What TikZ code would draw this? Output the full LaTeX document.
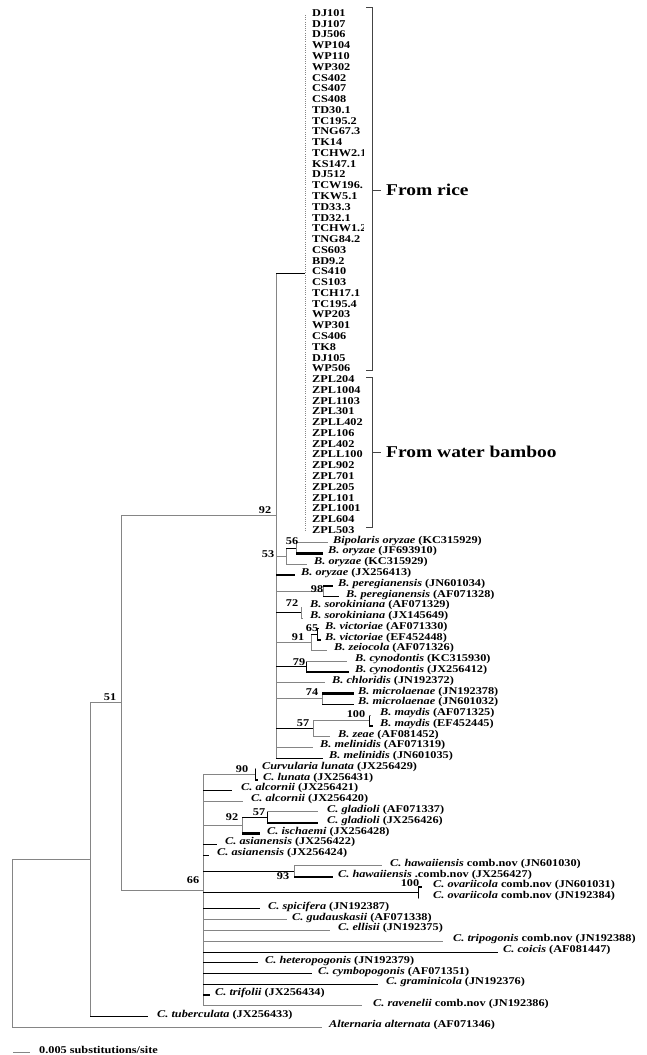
\documentclass[tikz,border=0pt]{standalone}
\usepackage{fontspec}
\setmainfont{Liberation Serif}[FakeStretch=1.18]
\definecolor{tg}{HTML}{858585}
\definecolor{bc}{HTML}{444444}
\newcommand\fs{\fontsize{10.4}{11}\selectfont\bfseries}
\newcommand\bigfs{\fontsize{16.5}{18}\selectfont\bfseries}
\pgfmathdeclarefunction{rowy}{1}{\pgfmathparse{15+10.77*#1}}
\newcommand\leaf[5]{\coordinate (#1) at (#3,{rowy(#2)});\node[lab] (#1t) at (#4,{rowy(#2)-2}) {#5};}
\begin{document}
\begin{tikzpicture}[x=1pt,y=-1pt,
 lab/.style={anchor=west,inner sep=0pt,font=\fs},
 bs/.style={inner sep=0pt,font=\fs},
 gb/.style={draw=tg,line width=1pt},
 bk/.style={draw=black,line width=1pt},
 tk/.style={draw=black,line width=2.2pt},
 brk/.style={draw=bc,line width=0.9pt},
 dt/.style={draw=tg,line width=0.8pt,dash pattern=on 1pt off 1.2pt}]
\useasboundingbox (0,0) rectangle (646,1055);
% ---------- internal nodes
\coordinate (root) at (12,{rowy(86.2)});
\coordinate (nt) at (90,{rowy(78.44)});
\coordinate (n51) at (121,{rowy(63.875)});
\coordinate (n92) at (276,{rowy(46.5)});
\coordinate (nrice) at (305,{rowy(24)});
\coordinate (n53) at (286,{rowy(50.25)});
\coordinate (n56) at (296,{rowy(49.5)});
\coordinate (n98) at (323,{rowy(53.5)});
\coordinate (n72) at (301,{rowy(55.5)});
\coordinate (n65) at (317,{rowy(57.5)});
\coordinate (n91) at (311,{rowy(58.25)});
\coordinate (n79) at (306,{rowy(60.5)});
\coordinate (n74) at (322,{rowy(63.5)});
\coordinate (n100) at (369,{rowy(65.5)});
\coordinate (n57) at (313,{rowy(66.25)});
\coordinate (n66) at (203,{rowy(81.25)});
\coordinate (n90) at (255,{rowy(70.5)});
\coordinate (n92c) at (242,{rowy(75.25)});
\coordinate (n57c) at (267,{rowy(74.5)});
\coordinate (n93) at (294,{rowy(79.5)});
\coordinate (n100b) at (418,{rowy(81.5)});
% ---------- top labels (rice and water bamboo isolates)
\begin{scope}
\clip (300,0) rectangle (363.5,540);
\foreach \t [count=\i from 0] in {DJ101,DJ107,DJ506,WP104,WP110,WP302,CS402,CS407,CS408,TD30.1,TC195.2,TNG67.3,TK14,TCHW2.1,KS147.1,DJ512,TCW196.,TKW5.1,TD33.3,TD32.1,TCHW1.2,TNG84.2,CS603,BD9.2,CS410,CS103,TCH17.1,TC195.4,WP203,WP301,CS406,TK8,DJ105,WP506,ZPL204,ZPL1004,ZPL1103,ZPL301,ZPLL402,ZPL106,ZPL402,ZPLL100,ZPL902,ZPL701,ZPL205,ZPL101,ZPL1001,ZPL604,ZPL503}
 {\coordinate (top\i) at (305,{rowy(\i)});
  \node[lab] (top\i t) at (312,{rowy(\i)-2}) {\t};}
\end{scope}
\draw[dt] (top0) -- (top48);
% ---------- Bipolaris leaves
\leaf{b1}{49}{328}{333}{\textit{Bipolaris oryzae} (KC315929)}
\leaf{b2}{50}{323}{328}{\textit{B. oryzae} (JF693910)}
\leaf{b3}{51}{307}{314}{\textit{B. oryzae} (KC315929)}
\leaf{b4}{52}{295}{301}{\textit{B. oryzae} (JX256413)}
\leaf{b5}{53}{333}{338}{\textit{B. peregianensis} (JN601034)}
\leaf{b6}{54}{339}{346}{\textit{B. peregianensis} (AF071328)}
\leaf{b7}{55}{302}{310}{\textit{B. sorokiniana} (AF071329)}
\leaf{b8}{56}{303}{310}{\textit{B. sorokiniana} (JX145649)}
\leaf{b9}{57}{319}{325}{\textit{B. victoriae} (AF071330)}
\leaf{b10}{58}{321}{325}{\textit{B. victoriae} (EF452448)}
\leaf{b11}{59}{327}{334}{\textit{B. zeiocola} (AF071326)}
\leaf{b12}{60}{347}{355}{\textit{B. cynodontis} (KC315930)}
\leaf{b13}{61}{349}{355}{\textit{B. cynodontis} (JX256412)}
\leaf{b14}{62}{325}{332}{\textit{B. chloridis} (JN192372)}
\leaf{b15}{63}{354}{358}{\textit{B. microlaenae} (JN192378)}
\leaf{b16}{64}{354}{358}{\textit{B. microlaenae} (JN601032)}
\leaf{b17}{65}{371}{380}{\textit{B. maydis} (AF071325)}
\leaf{b18}{66}{373}{380}{\textit{B. maydis} (EF452445)}
\leaf{b19}{67}{330}{338}{\textit{B. zeae} (AF081452)}
\leaf{b20}{68}{313}{320}{\textit{B. melinidis} (AF071319)}
\leaf{b21}{69}{323}{329}{\textit{B. melinidis} (JN601035)}
% ---------- Curvularia leaves
\leaf{c1}{70}{256}{262}{\textit{Curvularia lunata} (JX256429)}
\leaf{c2}{71}{258}{263}{\textit{C. lunata} (JX256431)}
\leaf{c3}{72}{232}{241}{\textit{C. alcornii} (JX256421)}
\leaf{c4}{73}{243}{251}{\textit{C. alcornii} (JX256420)}
\leaf{c5}{74}{318}{327}{\textit{C. gladioli} (AF071337)}
\leaf{c6}{75}{318}{327}{\textit{C. gladioli} (JX256426)}
\leaf{c7}{76}{260}{267}{\textit{C. ischaemi} (JX256428)}
\leaf{c8}{77}{217}{225}{\textit{C. asianensis} (JX256422)}
\leaf{c9}{78}{209}{217}{\textit{C. asianensis} (JX256424)}
\leaf{c10}{79}{382}{390}{\textit{C. hawaiiensis} comb.nov (JN601030)}
\leaf{c11}{80}{333}{338}{\textit{C. hawaiiensis} .comb.nov (JX256427)}
\leaf{c12}{81}{422}{433}{\textit{C. ovariicola} comb.nov (JN601031)}
\leaf{c13}{82}{419}{433}{\textit{C. ovariicola} comb.nov (JN192384)}
\leaf{c14}{83}{260}{268}{\textit{C. spicifera} (JN192387)}
\leaf{c15}{84}{287}{292}{\textit{C. gudauskasii} (AF071338)}
\leaf{c16}{85}{330}{338}{\textit{C. ellisii} (JN192375)}
\leaf{c17}{86}{443}{453}{\textit{C. tripogonis} comb.nov (JN192388)}
\leaf{c18}{87}{498}{503}{\textit{C. coicis} (AF081447)}
\leaf{c19}{88}{258}{265}{\textit{C. heteropogonis} (JN192379)}
\leaf{c20}{89}{312}{318}{\textit{C. cymbopogonis} (AF071351)}
\leaf{c21}{90}{378}{386}{\textit{C. graminicola} (JN192376)}
\leaf{c22}{91}{210}{215}{\textit{C. trifolii} (JX256434)}
\leaf{c23}{92}{362}{373}{\textit{C. ravenelii} comb.nov (JN192386)}
\leaf{tub}{93}{148}{157}{\textit{C. tuberculata} (JX256433)}
\leaf{alt}{94}{322}{329}{\textit{Alternaria alternata} (AF071346)}
% ---------- backbone
\draw[gb] (root |- nt) -- (root |- alt);
\draw[gb] (root |- nt) -- (nt);
\draw[gb] (root |- alt) -- (alt);
\draw[gb] (nt |- n51) -- (nt |- tub);
\draw[gb] (nt |- n51) -- (n51);
\draw[bk] (nt |- tub) -- (tub);
\draw[gb] (n51 |- n92) -- (n51 |- n66);
\draw[gb] (n51 |- n92) -- (n92);
\draw[gb] (n51 |- n66) -- (n66);
% ---------- node 92 (Bipolaris)
\draw[gb] (n92 |- nrice) -- (n92 |- b21);
\draw[bk] (n92 |- nrice) -- (nrice);
\draw[gb] (n92 |- n53) -- (n53);
\draw[gb] (n53 |- n56) -- (n53 |- b3);
\draw[bk] (n53 |- n56) -- (n56);
\draw[gb] (n53 |- b3) -- (b3);
\draw[gb] (n56 |- b1) -- (n56 |- b2);
\draw[gb] (n56 |- b1) -- (b1);
\draw[tk] (n56 |- b2) -- (b2);
\draw[tk] (n92 |- b4) -- (b4);
\draw[gb] (n92 |- n98) -- (n98);
\draw[gb] (n98 |- b5) -- (n98 |- b6);
\draw[tk] (n98 |- b5) -- (b5);
\draw[bk] (n98 |- b6) -- (b6);
\draw[bk] (n92 |- n72) -- (n72);
\draw[gb] (n72 |- b7) -- (n72 |- b8);
\draw[gb] (n72 |- b7) -- (b7);
\draw[gb] (n72 |- b8) -- (b8);
\draw[gb] (n92 |- n91) -- (n91);
\draw[gb] (n91 |- n65) -- (n91 |- b11);
\draw[bk] (n91 |- n65) -- (n65);
\draw[gb] (n91 |- b11) -- (b11);
\draw[bk] (n65 |- b9) -- (n65 |- b10);
\draw[bk] (n65 |- b9) -- (b9);
\draw[tk] (n65 |- b10) -- (b10);
\draw[bk] (n92 |- n79) -- (n79);
\draw[bk] (n79 |- b12) -- (n79 |- b13);
\draw[gb] (n79 |- b12) -- (b12);
\draw[tk] (n79 |- b13) -- (b13);
\draw[gb] (n92 |- b14) -- (b14);
\draw[gb] (n92 |- n74) -- (n74);
\draw[gb] (n74 |- b15) -- (n74 |- b16);
\draw[tk] (n74 |- b15) -- (b15);
\draw[bk] (n74 |- b16) -- (b16);
\draw[bk] (n92 |- n57) -- (n57);
\draw[gb] (n57 |- n100) -- (n57 |- b19);
\draw[gb] (n57 |- n100) -- (n100);
\draw[gb] (n57 |- b19) -- (b19);
\draw[bk] (n100 |- b17) -- (n100 |- b18);
\draw[gb] (n100 |- b17) -- (b17);
\draw[tk] (n100 |- b18) -- (b18);
\draw[gb] (n92 |- b20) -- (b20);
\draw[bk] (n92 |- b21) -- (b21);
% ---------- node 66 (Curvularia)
\draw[gb] (n66 |- n90) -- (n66 |- c23);
\draw[gb] (n66 |- n90) -- (n90);
\draw[bk] (n90 |- c1) -- (n90 |- c2);
\draw[gb] (n90 |- c1) -- (c1);
\draw[tk] (n90 |- c2) -- (c2);
\draw[bk] (n66 |- c3) -- (c3);
\draw[gb] (n66 |- c4) -- (c4);
\draw[gb] (n66 |- n92c) -- (n92c);
\draw[gb] (n92c |- n57c) -- (n92c |- c7);
\draw[bk] (n92c |- n57c) -- (n57c);
\draw[tk] (n92c |- c7) -- (c7);
\draw[bk] (n57c |- c5) -- (n57c |- c6);
\draw[gb] (n57c |- c5) -- (c5);
\draw[tk] (n57c |- c6) -- (c6);
\draw[bk] (n66 |- c8) -- (c8);
\draw[bk] (n66 |- c9) -- (c9);
\draw[bk] (n66 |- n93) -- (n93);
\draw[gb] (n93 |- c10) -- (n93 |- c11);
\draw[gb] (n93 |- c10) -- (c10);
\draw[tk] (n93 |- c11) -- (c11);
\draw[bk] (n66 |- n100b) -- (n100b);
\draw[bk] (n100b |- c12) -- (n100b |- c13);
\draw[tk] (n100b |- c12) -- (c12);
\draw[gb] (n100b |- c13) -- (c13);
\draw[bk] (n66 |- c14) -- (c14);
\draw[gb] (n66 |- c15) -- (c15);
\draw[gb] (n66 |- c16) -- (c16);
\draw[gb] (n66 |- c17) -- (c17);
\draw[bk] (n66 |- c18) -- (c18);
\draw[bk] (n66 |- c19) -- (c19);
\draw[bk] (n66 |- c20) -- (c20);
\draw[bk] (n66 |- c21) -- (c21);
\draw[tk] (n66 |- c22) -- (c22);
\draw[gb] (n66 |- c23) -- (c23);
% ---------- bootstrap values
\node[bs] (s92) at (265,510) {92};
\node[bs] (s51) at (110,697) {51};
\node[bs] (s66) at (193,880) {66};
\node[bs] (s53) at (268,554) {53};
\node[bs] (s56) at (292,541) {56};
\node[bs] (s98) at (317,589) {98};
\node[bs] (s72) at (292,603) {72};
\node[bs] (s65) at (312,628) {65};
\node[bs] (s91) at (298,637) {91};
\node[bs] (s79) at (299,662) {79};
\node[bs] (s74) at (312,692) {74};
\node[bs] (s100) at (356,714) {100};
\node[bs] (s57) at (303,723) {57};
\node[bs] (s90) at (242,769) {90};
\node[bs] (s92c) at (232,817) {92};
\node[bs] (s57c) at (259,812) {57};
\node[bs] (s93) at (283,876) {93};
\node[bs] (s100b) at (410,883) {100};
% ---------- brackets
\draw[brk] (366,7) -- (372,7) -- (372,370) -- (366,370);
\coordinate (rk) at (372,190);
\coordinate (rke) at (381,190);
\draw[brk] (rk) -- (rke);
\node[anchor=west,inner sep=0pt,font=\bigfs] (rice) at (386,190) {From rice};
\draw[brk] (366,377) -- (372,377) -- (372,527) -- (366,527);
\coordinate (wk) at (372,452);
\coordinate (wke) at (381,452);
\draw[brk] (wk) -- (wke);
\node[anchor=west,inner sep=0pt,font=\bigfs] (bamboo) at (386,452) {From water bamboo};
% ---------- scale bar
\coordinate (sb1) at (13,1052);
\coordinate (sb2) at (30,1052);
\draw[gb] (sb1) -- (sb2);
\node[lab] (sbt) at (39,1050) {0.005 substitutions/site};
\end{tikzpicture}
\end{document}
